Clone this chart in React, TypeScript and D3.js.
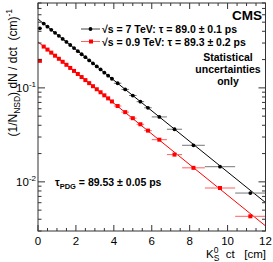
import React from 'react';
import * as d3 from 'd3';

// bin edges in ct [cm]
const binEdges = [0, 0.2, 0.4, 0.6, 0.8, 1.0, 1.2, 1.4, 1.6, 1.8, 2.0, 2.2, 2.4, 2.6, 2.8, 3.0, 3.2, 3.4, 3.6, 3.8, 4.0,
  4.4, 4.8, 5.2, 5.6, 6.0, 6.8, 7.6, 8.8, 10.4, 12.0];

// sqrt(s) = 7 TeV
const values7 = [0.43, 0.483, 0.448, 0.415, 0.385, 0.358, 0.332, 0.308, 0.286, 0.265, 0.246, 0.228, 0.212, 0.196, 0.182,
  0.169, 0.157, 0.145, 0.135, 0.125, 0.112, 0.0963, 0.0829, 0.0714, 0.0614, 0.0491, 0.0363, 0.0245, 0.0145, 0.0076];
// sqrt(s) = 0.9 TeV
const values09 = [0.194, 0.275, 0.2555, 0.237, 0.22, 0.204, 0.1895, 0.176, 0.163, 0.1515, 0.1406, 0.1304, 0.121, 0.1123,
  0.1042, 0.0967, 0.0898, 0.0833, 0.0773, 0.0717, 0.0641, 0.0552, 0.0476, 0.041, 0.0351, 0.0281, 0.0195, 0.0141, 0.0086, 0.0043];

// exponential fits, value at ct = 0 and ct = 12
const fit7 = [0.54, 0.00602];
const fit09 = [0.308, 0.0034];

const xTickLabels = [0, 2, 4, 6, 8, 10, 12];
const yTickLabels = [
  { v: 0.1, exp: '-1' },
  { v: 0.01, exp: '-2' },
];

const W = 273;
const H = 262;
const FONT = '"Liberation Sans", Arial, Helvetica, sans-serif';
const NB = '\u00a0';

const App = () => {
  const x = d3.scaleLinear().domain([0, 12]).range([38, 265.5]);
  const y = d3.scaleLog().domain([0.003, 0.8]).range([231, 3]);
  const [x0, x1] = x.range();
  const [y0, y1] = y.range();

  const minorX = d3.range(0, 12.001, 0.5);
  const yTicks = y.ticks();
  const isMajor = (v: number) => Math.abs(Math.log10(v) - Math.round(Math.log10(v))) < 1e-6;

  const line = d3.line<[number, number]>().x(d => x(d[0])).y(d => y(d[1]));

  const bins = values7.map((_, i) => ({ lo: binEdges[i], hi: binEdges[i + 1], c: (binEdges[i] + binEdges[i + 1]) / 2 }));

  return (
    <svg width={W} height={H} style={{ position: 'absolute', left: 0, top: 0, background: '#fff' }} fontFamily={FONT}>
      {/* fits */}
      <path d={line([[0, fit7[0]], [12, fit7[1]]])!} stroke="#000" strokeWidth={1} fill="none" />
      <path d={line([[0, fit09[0]], [12, fit09[1]]])!} stroke="#ff0000" strokeWidth={1} fill="none" />

      {/* horizontal bin-width bars */}
      {bins.map((b, i) => (
        <line key={'e7' + i} x1={x(b.lo)} x2={x(b.hi)} y1={y(values7[i])} y2={y(values7[i])} stroke="#777" strokeWidth={1} />
      ))}
      {bins.map((b, i) => (
        <line key={'e09' + i} x1={x(b.lo)} x2={x(b.hi)} y1={y(values09[i])} y2={y(values09[i])} stroke="#ff6060" strokeWidth={1} />
      ))}

      {/* markers */}
      {bins.map((b, i) => (
        <circle key={'m7' + i} cx={x(b.c)} cy={y(values7[i])} r={1.9} fill="#000" />
      ))}
      {bins.map((b, i) => (
        <rect key={'m09' + i} x={x(b.c) - 2} y={y(values09[i]) - 2} width={4} height={4} fill="#ff0000" />
      ))}

      {/* frame */}
      <rect x={x0} y={y1} width={x1 - x0} height={y0 - y1} fill="none" stroke="#333" strokeWidth={1} />

      {/* x ticks */}
      {minorX.map(v => {
        const len = v % 2 === 0 ? 6 : 3;
        return (
          <g key={'xt' + v}>
            <line x1={x(v)} x2={x(v)} y1={y0} y2={y0 - len} stroke="#333" />
            <line x1={x(v)} x2={x(v)} y1={y1} y2={y1 + len} stroke="#333" />
          </g>
        );
      })}
      {/* y ticks */}
      {yTicks.map(v => {
        const len = isMajor(v) ? 7 : 3.5;
        return (
          <g key={'yt' + v}>
            <line x1={x0} x2={x0 + len} y1={y(v)} y2={y(v)} stroke="#333" />
            <line x1={x1} x2={x1 - len} y1={y(v)} y2={y(v)} stroke="#333" />
          </g>
        );
      })}

      {/* tick labels */}
      {xTickLabels.map(v => (
        <text key={'xl' + v} x={x(v)} y={245} fontSize={11.5} textAnchor="middle">{v}</text>
      ))}
      {yTickLabels.map(t => (
        <text key={'yl' + t.v} x={36} y={y(t.v) + 4} fontSize={11.5} textAnchor="end">
          10<tspan fontSize={8} dy={-5}>{t.exp}</tspan>
        </text>
      ))}

      {/* axis titles */}
      <text x={266} y={258} fontSize={11.5} textAnchor="end">
        K<tspan fontSize={8.5} dy={-5}>0</tspan><tspan fontSize={8.5} dx={-4.7} dy={8}>S</tspan>
        <tspan dy={-3}>{`${NB}${NB}ct${NB}${NB}${NB}[cm]`}</tspan>
      </text>
      <text transform="translate(17,9) rotate(-90)" fontSize={12} textAnchor="end">
        (1/N<tspan fontSize={8.5} dy={3}>NSD</tspan><tspan dy={-3}>{`) dN / dct${NB}${NB}(cm)`}</tspan>
        <tspan fontSize={8.5} dy={-5}>-1</tspan>
      </text>

      {/* legend */}
      <line x1={81} x2={100} y1={29} y2={29} stroke="#444" />
      <circle cx={90.5} cy={29} r={1.9} fill="#000" />
      <line x1={81} x2={100} y1={41.5} y2={41.5} stroke="#ff6060" />
      <rect x={89} y={39.5} width={4} height={4} fill="#ff0000" />
      <text x={102} y={33} fontSize={10.5} fontWeight="bold">
        √s = 7 TeV: τ = 89.0 ± 0.1 ps
      </text>
      <text x={102} y={45.5} fontSize={10.5} fontWeight="bold">
        √s = 0.9 TeV: τ = 89.3 ± 0.2 ps
      </text>

      <text x={262} y={20} fontSize={13.5} fontWeight="bold" textAnchor="end">CMS</text>

      <text x={228} y={61} fontSize={10.5} fontWeight="bold" textAnchor="middle">Statistical</text>
      <text x={228} y={73} fontSize={10.5} fontWeight="bold" textAnchor="middle">uncertainties</text>
      <text x={228} y={85} fontSize={10.5} fontWeight="bold" textAnchor="middle">only</text>

      <text x={55} y={186} fontSize={10.5} fontWeight="bold">
        τ<tspan fontSize={7.5} dy={3}>PDG</tspan><tspan dy={-3}> = 89.53 ± 0.05 ps</tspan>
      </text>
    </svg>
  );
};

export default App;
